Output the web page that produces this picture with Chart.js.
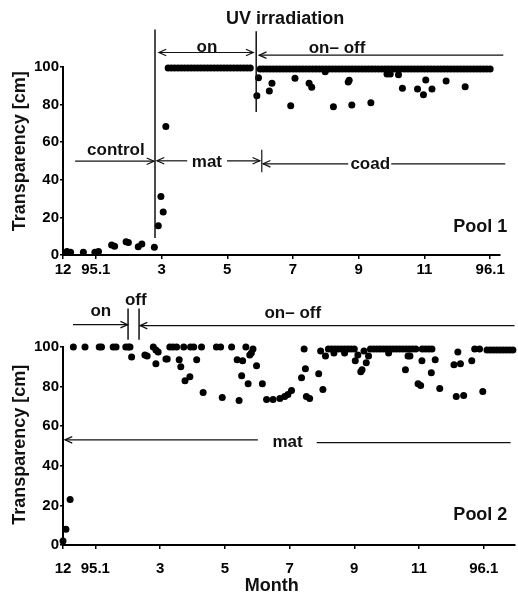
<!DOCTYPE html>
<html>
<head>
<meta charset="utf-8">
<script src="https://cdn.jsdelivr.net/npm/chart.js@4.4.1/dist/chart.umd.min.js"></script>
<style>
body { margin: 0; background: #fff; }
canvas { position: absolute; left: 0; }
#pool1 { top: 0; }
#pool2 { top: 290px; }
</style>
</head>
<body>
<canvas id="pool1" width="518" height="290"></canvas>
<canvas id="pool2" width="518" height="303"></canvas>
<script>
// x = months counted from 1 Dec 1994, y = transparency in cm
var monthTicks = [0, 1, 3, 5, 7, 9, 11, 13];
var monthLabels = ['12', '95.1', '3', '5', '7', '9', '11', '96.1'];
var depthTicks = [0, 20, 40, 60, 80, 100];

// Pool 1 - single readings
var pool1Month = [0.12, 0.23, 0.62, 0.97, 1.08, 1.48, 1.57, 1.92, 1.99, 2.29, 2.40, 2.78, 2.90, 2.98, 3.05, 3.13,
  5.90, 5.95, 6.28, 6.36, 6.93, 7.06, 7.49, 7.57, 7.98, 8.23, 8.68, 8.71, 8.79, 9.37, 9.86, 9.96,
  10.21, 10.33, 10.79, 10.97, 11.04, 11.23, 11.66, 12.24];
var pool1Depth = [1.8, 1.4, 1.4, 1.4, 1.8, 5.3, 4.6, 7.0, 6.6, 4.4, 5.9, 4.1, 15.6, 31.1, 22.9, 68.4,
  84.7, 94.3, 87.2, 91.3, 79.4, 94.0, 91.3, 89.2, 97.5, 78.9, 92.0, 93.0, 79.8, 81.0, 96.3, 96.3,
  95.9, 88.7, 88.3, 85.3, 93.1, 88.3, 92.6, 89.5];
// Pool 1 - the daily readings that stay at the top
var pool1TopMonth = [3.2, 3.3, 3.4, 3.5, 3.6, 3.7, 3.8, 3.9, 4.0, 4.1, 4.2, 4.3, 4.4, 4.5, 4.6, 4.7, 4.8, 4.9,
  5.0, 5.1, 5.2, 5.3, 5.4, 5.5, 5.6, 5.7,
  6.0, 6.1, 6.2, 6.3, 6.4, 6.5, 6.6, 6.7, 6.8, 6.9, 7.0, 7.1, 7.2, 7.3, 7.4, 7.5, 7.6, 7.7, 7.8, 7.9,
  8.0, 8.1, 8.2, 8.3, 8.4, 8.5, 8.6, 8.7, 8.8, 8.9, 9.0, 9.1, 9.2, 9.3, 9.4, 9.5, 9.6, 9.7, 9.8, 9.9,
  10.0, 10.1, 10.2, 10.3, 10.4, 10.5, 10.6, 10.7, 10.8, 10.9, 11.0, 11.1, 11.2, 11.3, 11.4, 11.5, 11.6,
  11.7, 11.8, 11.9, 12.0, 12.1, 12.2, 12.3, 12.4, 12.5, 12.6, 12.7, 12.8, 12.9, 13.0];
var pool1TopDepth = [99.5, 99.5, 99.5, 99.5, 99.5, 99.5, 99.5, 99.5, 99.5, 99.5, 99.5, 99.5, 99.5,
  99.5, 99.5, 99.5, 99.5, 99.5, 99.5, 99.5, 99.5, 99.5, 99.5, 99.5, 99.5, 99.5,
  99, 99, 99, 99, 99, 99, 99, 99, 99, 99, 99, 99, 99, 99, 99, 99, 99, 99, 99, 99,
  99, 99, 99, 99, 99, 99, 99, 99, 99, 99, 99, 99, 99, 99, 99, 99, 99, 99, 99, 99,
  99, 99, 99, 99, 99, 99, 99, 99, 99, 99, 99, 99, 99, 99, 99, 99, 99,
  99, 99, 99, 99, 99, 99, 99, 99, 99, 99, 99, 99, 99, 99];

// Pool 2 - single readings
var pool2Month = [0.00, 0.09, 0.22, 0.32, 0.68, 1.12, 1.19, 1.55, 1.64, 1.94, 2.02, 2.07,
  2.12, 2.53, 2.60, 2.79, 2.87, 2.94, 2.87, 3.18, 3.22, 3.30, 3.40, 3.51, 3.73, 3.59, 3.64,
  3.94, 4.04, 4.28, 4.13, 3.92, 3.77, 4.33, 4.74, 4.87, 5.21, 4.92,
  5.38, 5.55, 5.52, 5.72, 5.44, 5.65, 5.87, 5.82, 5.77, 5.98,
  6.16, 6.29, 6.49, 6.70, 6.85, 6.95, 7.06, 7.45, 7.49, 7.37, 7.52, 7.62, 7.90, 8.03, 7.96, 8.11,
  8.37, 8.70, 9.03, 9.11, 9.20, 9.24, 9.30, 9.37, 9.44,
  10.06, 10.58, 10.66, 10.72, 11.09, 10.97, 11.05, 11.38, 11.50, 11.64,
  12.08, 12.28, 12.20, 12.15, 12.38, 12.63, 12.72, 12.87, 12.97];
var pool2Depth = [2, 8, 23, 100, 100, 100, 100, 100, 100, 100, 100, 100,
  95, 96, 95.5, 100, 98.5, 97.5, 91.5, 94, 94, 100, 100, 100, 100, 93.5, 90,
  100, 100, 100, 93.5, 85, 83, 77, 100, 100, 100, 74.5,
  93.5, 93, 85.5, 81.5, 73, 100, 99, 97, 96, 90.5,
  81.5, 73.5, 73.5, 74, 75, 76, 78, 99, 89, 84.5, 75, 74, 86.5, 78.5, 98, 95.5,
  97, 97, 93, 96, 87.5, 88.5, 98, 92, 95.5,
  97, 88.5, 95.5, 95.5, 93, 81.5, 80.5, 87, 93.5, 79,
  91, 91.5, 97.5, 75, 75.5, 93, 99, 99, 77.5];
// Pool 2 - runs of daily readings at the top
var pool2TopMonth = [8.2, 8.3, 8.4, 8.5, 8.6, 8.7, 8.8, 8.9, 9.0,
  9.5, 9.6, 9.7, 9.8, 9.9, 10.0, 10.1, 10.2, 10.3, 10.4, 10.5, 10.6, 10.7, 10.8, 10.9,
  11.1, 11.2, 11.3, 11.4,
  13.1, 13.2, 13.3, 13.4, 13.5, 13.6, 13.7, 13.8, 13.9];
var pool2TopDepth = [99, 99, 99, 99, 99, 99, 99, 99, 99,
  99, 99, 99, 99, 99, 99, 99, 99, 99, 99, 99, 99, 99, 99, 99,
  99, 99, 99, 99,
  98.5, 98.5, 98.5, 98.5, 98.5, 98.5, 98.5, 98.5, 98.5];

var FONT = '"Liberation Sans", Arial, Helvetica, sans-serif';

function toPoints(xs, ys) {
  var out = [];
  for (var i = 0; i < xs.length; i++) out.push({ x: xs[i], y: ys[i] });
  return out;
}

function arrowHead(ctx, fx, fy, tx, ty) {
  var a = Math.atan2(ty - fy, tx - fx), len = 8, w = 0.42;
  ctx.beginPath();
  ctx.moveTo(tx - len * Math.cos(a - w), ty - len * Math.sin(a - w));
  ctx.lineTo(tx, ty);
  ctx.lineTo(tx - len * Math.cos(a + w), ty - len * Math.sin(a + w));
  ctx.stroke();
}

// lines: [x1, y1, x2, y2, headAtStart, headAtEnd, width] in axis units
// texts: [text, x, y, align, size, rotated]
function notes(spec) {
  return {
    id: 'notes',
    afterDraw: function (chart) {
      var ctx = chart.ctx, sx = chart.scales.x, sy = chart.scales.y;
      ctx.save();
      ctx.strokeStyle = '#111';
      ctx.fillStyle = '#111';
      spec.lines.forEach(function (l) {
        var x1 = sx.getPixelForValue(l[0]), y1 = sy.getPixelForValue(l[1]);
        var x2 = sx.getPixelForValue(l[2]), y2 = sy.getPixelForValue(l[3]);
        ctx.lineWidth = l[6] || 1.2;
        ctx.beginPath(); ctx.moveTo(x1, y1); ctx.lineTo(x2, y2); ctx.stroke();
        ctx.lineWidth = 1.2;
        if (l[4]) arrowHead(ctx, x2, y2, x1, y1);
        if (l[5]) arrowHead(ctx, x1, y1, x2, y2);
      });
      spec.texts.forEach(function (t) {
        var x = sx.getPixelForValue(t[1]), y = sy.getPixelForValue(t[2]);
        ctx.font = 'bold ' + t[4] + 'px ' + FONT;
        ctx.textAlign = t[3];
        if (t[5]) {
          ctx.save();
          ctx.translate(x, y);
          ctx.rotate(-Math.PI / 2);
          ctx.textBaseline = 'middle';
          ctx.fillText(t[0], 0, 0);
          ctx.restore();
        } else {
          ctx.textBaseline = 'alphabetic';
          ctx.fillText(t[0], x, y);
        }
      });
      ctx.restore();
    }
  };
}

function makeChart(id, sets, xMax, topPad, rightPad, xHeight, labelPad, spec) {
  var tickFont = { family: FONT, size: 15, weight: 'bold' };
  var datasets = sets.map(function (s) {
    return {
      data: s, pointRadius: 3.5, pointHoverRadius: 3.5, borderWidth: 0,
      backgroundColor: '#000', pointBackgroundColor: '#000', clip: false
    };
  });
  return new Chart(document.getElementById(id), {
    type: 'scatter',
    data: { datasets: datasets },
    options: {
      responsive: false,
      animation: false,
      layout: { padding: { top: topPad, right: rightPad, left: 0, bottom: 0 } },
      plugins: { legend: { display: false }, tooltip: { enabled: false } },
      scales: {
        x: {
          type: 'linear', min: 0, max: xMax,
          afterBuildTicks: function (s) { s.ticks = monthTicks.map(function (v) { return { value: v }; }); },
          afterFit: function (s) { s.height = xHeight; },
          ticks: {
            font: tickFont, color: '#000', padding: labelPad, maxRotation: 0, autoSkip: false,
            callback: function (v) { return monthLabels[monthTicks.indexOf(v)]; }
          },
          grid: { drawOnChartArea: false, tickLength: 4, color: '#000', lineWidth: 1.5 },
          border: { color: '#000', width: 2 }
        },
        y: {
          type: 'linear', min: 0, max: 100,
          afterBuildTicks: function (s) { s.ticks = depthTicks.map(function (v) { return { value: v }; }); },
          afterFit: function (s) { s.width = 63; },
          ticks: { font: tickFont, color: '#000', padding: 1 },
          grid: { drawOnChartArea: false, tickLength: 3, color: '#000', lineWidth: 1.5 },
          border: { color: '#000', width: 2 }
        }
      }
    },
    plugins: [notes(spec)]
  });
}

makeChart('pool1', [toPoints(pool1Month, pool1Depth), toPoints(pool1TopMonth, pool1TopDepth)],
  13.3, 67, 18, 35, 2, {
    lines: [
      [2.80, 120, 2.80, 9, 0, 0, 1.5],
      [5.88, 119, 5.88, 76, 0, 0, 1.5],
      [2.92, 107.7, 5.79, 107.7, 1, 1],
      [5.97, 106.3, 13.4, 106.3, 1, 0],
      [0.37, 49.9, 2.77, 49.9, 0, 1],
      [2.86, 50.1, 3.78, 50.1, 1, 0],
      [4.99, 50.1, 5.99, 50.1, 0, 1],
      [6.05, 56, 6.05, 44, 0, 0],
      [6.09, 48.5, 8.68, 48.5, 1, 0],
      [9.99, 48.5, 13.46, 48.5, 0, 0]
    ],
    texts: [
      ['UV irradiation', 6.76, 122.7, 'center', 18],
      ['on', 4.38, 108.2, 'center', 17],
      ['on\u2013 off', 8.34, 107.2, 'center', 17],
      ['control', 1.61, 53.3, 'center', 17],
      ['mat', 4.38, 47, 'center', 17],
      ['coad', 9.35, 46, 'center', 17],
      ['Pool 1', 13.52, 12.3, 'right', 18],
      ['Transparency [cm]', -1.31, 55.2, 'center', 18, true]
    ]
  });

makeChart('pool2', [toPoints(pool2Month, pool2Depth), toPoints(pool2TopMonth, pool2TopDepth)],
  13.95, 57, 3, 48, 11, {
    lines: [
      [0.31, 111.3, 2.0, 111.3, 0, 1],
      [2.01, 119.4, 2.01, 103.7, 0, 0, 1.5],
      [2.35, 119.4, 2.35, 103.7, 0, 0, 1.5],
      [2.38, 110.8, 13.95, 110.8, 1, 0],
      [0.06, 53.1, 6.02, 53.1, 1, 0],
      [7.84, 51.7, 13.83, 51.7, 0, 0]
    ],
    texts: [
      ['on', 1.17, 115.5, 'center', 17],
      ['off', 2.25, 121, 'center', 17],
      ['on\u2013 off', 7.1, 114.7, 'center', 17],
      ['mat', 6.94, 49.6, 'center', 17],
      ['Pool 2', 13.73, 12.6, 'right', 18],
      ['Month', 6.45, -23.3, 'center', 18],
      ['Transparency [cm]', -1.33, 50.6, 'center', 18, true]
    ]
  });
</script>
</body>
</html>
